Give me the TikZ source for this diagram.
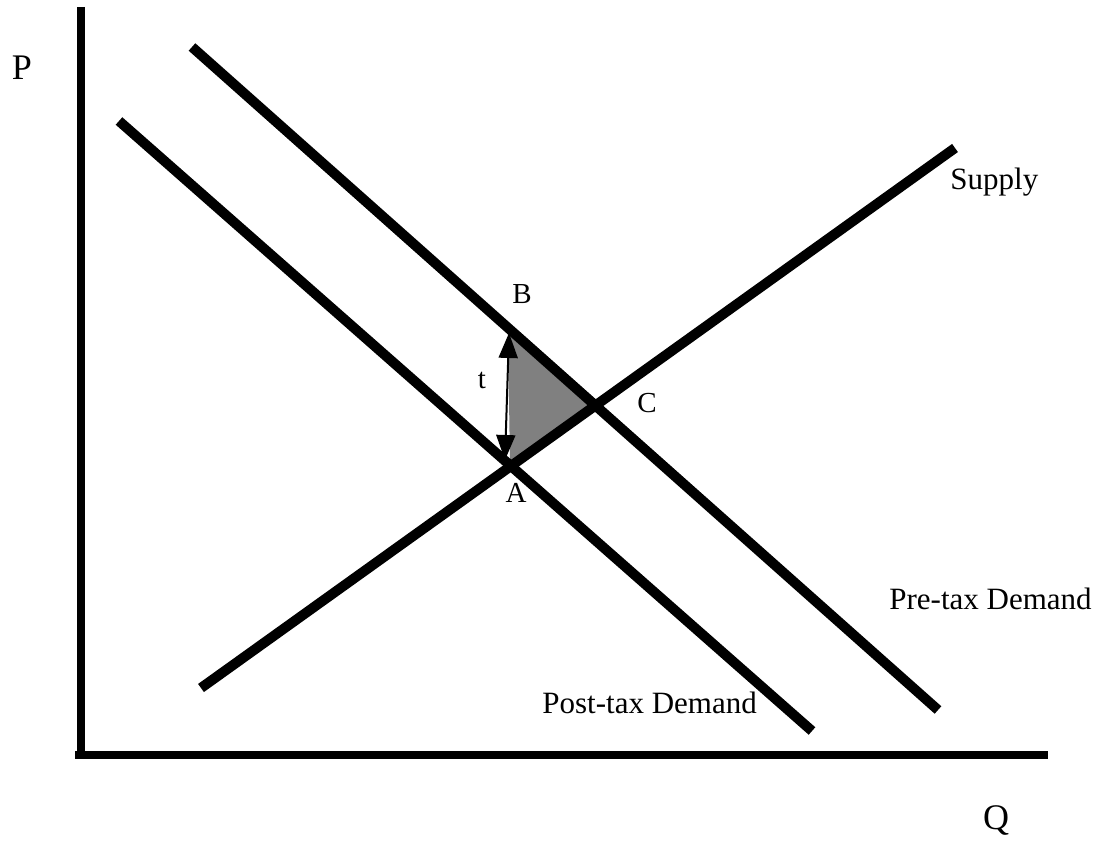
\documentclass[tikz,border=0pt]{standalone}
\usepackage{fontspec}
\setmainfont{Liberation Serif}
\usetikzlibrary{arrows.meta}

\begin{document}
\begin{tikzpicture}[x=0.5pt, y=0.5pt,
    axis_line/.style={line width=4pt},
    curve_line/.style={line width=5pt},
    tax_arrow/.style={{Triangle[length=12.5pt,width=9.5pt]}-{Triangle[length=12.5pt,width=9.5pt]}, line width=1pt},
    gain_area/.style={fill=black!50},
    curve_text/.style={font=\fontsize{15.5}{18}\selectfont, inner sep=0pt},
    point_text/.style={font=\fontsize{14.5}{17}\selectfont, inner sep=0pt},
    axis_text/.style={font=\fontsize{18}{21}\selectfont, inner sep=0pt}
]
    \useasboundingbox (0,0) rectangle (1108,846);

    % --- Coordinates ---
    % Axes
    \coordinate (origin) at (81,87);
    \coordinate (p_top) at (81,839);
    \coordinate (q_left) at (75,91);
    \coordinate (q_right) at (1048,91);

    % Curve end points
    \coordinate (s_low) at (201,158);
    \coordinate (s_high) at (955,698);
    \coordinate (pre_high) at (192,799);
    \coordinate (pre_low) at (938,136);
    \coordinate (post_high) at (119,725);
    \coordinate (post_low) at (812,115);

    % Points of the triangle
    \coordinate (pA) at (510,381);
    \coordinate (pB) at (508,513);
    \coordinate (pC) at (597,443);
    \coordinate (tip_top) at (509,513);
    \coordinate (tip_bot) at (505,386);

    % --- Shaded area ---
    \fill[gain_area] (pB) -- (pC) -- (pA) -- cycle;

    % --- Axes ---
    \draw[axis_line] (p_top) -- (origin);
    \draw[axis_line] (q_left) -- (q_right);

    % --- Curves ---
    \draw[curve_line] (s_low) -- (s_high);
    \draw[curve_line] (pre_high) -- (pre_low);
    \draw[curve_line] (post_high) -- (post_low);

    % --- Tax arrow ---
    \draw[tax_arrow] (tip_bot) -- (tip_top);

    % --- Labels ---
    \node[axis_text] (lab_p) at (22,778) {P};
    \node[axis_text] (lab_q) at (996,26) {Q};
    \node[curve_text, anchor=base west] (lab_supply) at (950,656) {Supply};
    \node[curve_text, anchor=base west] (lab_pre) at (889,236) {Pre-tax Demand};
    \node[curve_text, anchor=base west] (lab_post) at (542,133) {Post-tax Demand};
    \node[point_text, anchor=base] (lab_a) at (516,343) {A};
    \node[point_text, anchor=base] (lab_b) at (522,542) {B};
    \node[point_text, anchor=base] (lab_c) at (647,433) {C};
    \node[point_text, anchor=base] (lab_t) at (482,457) {t};

\end{tikzpicture}
\end{document}
